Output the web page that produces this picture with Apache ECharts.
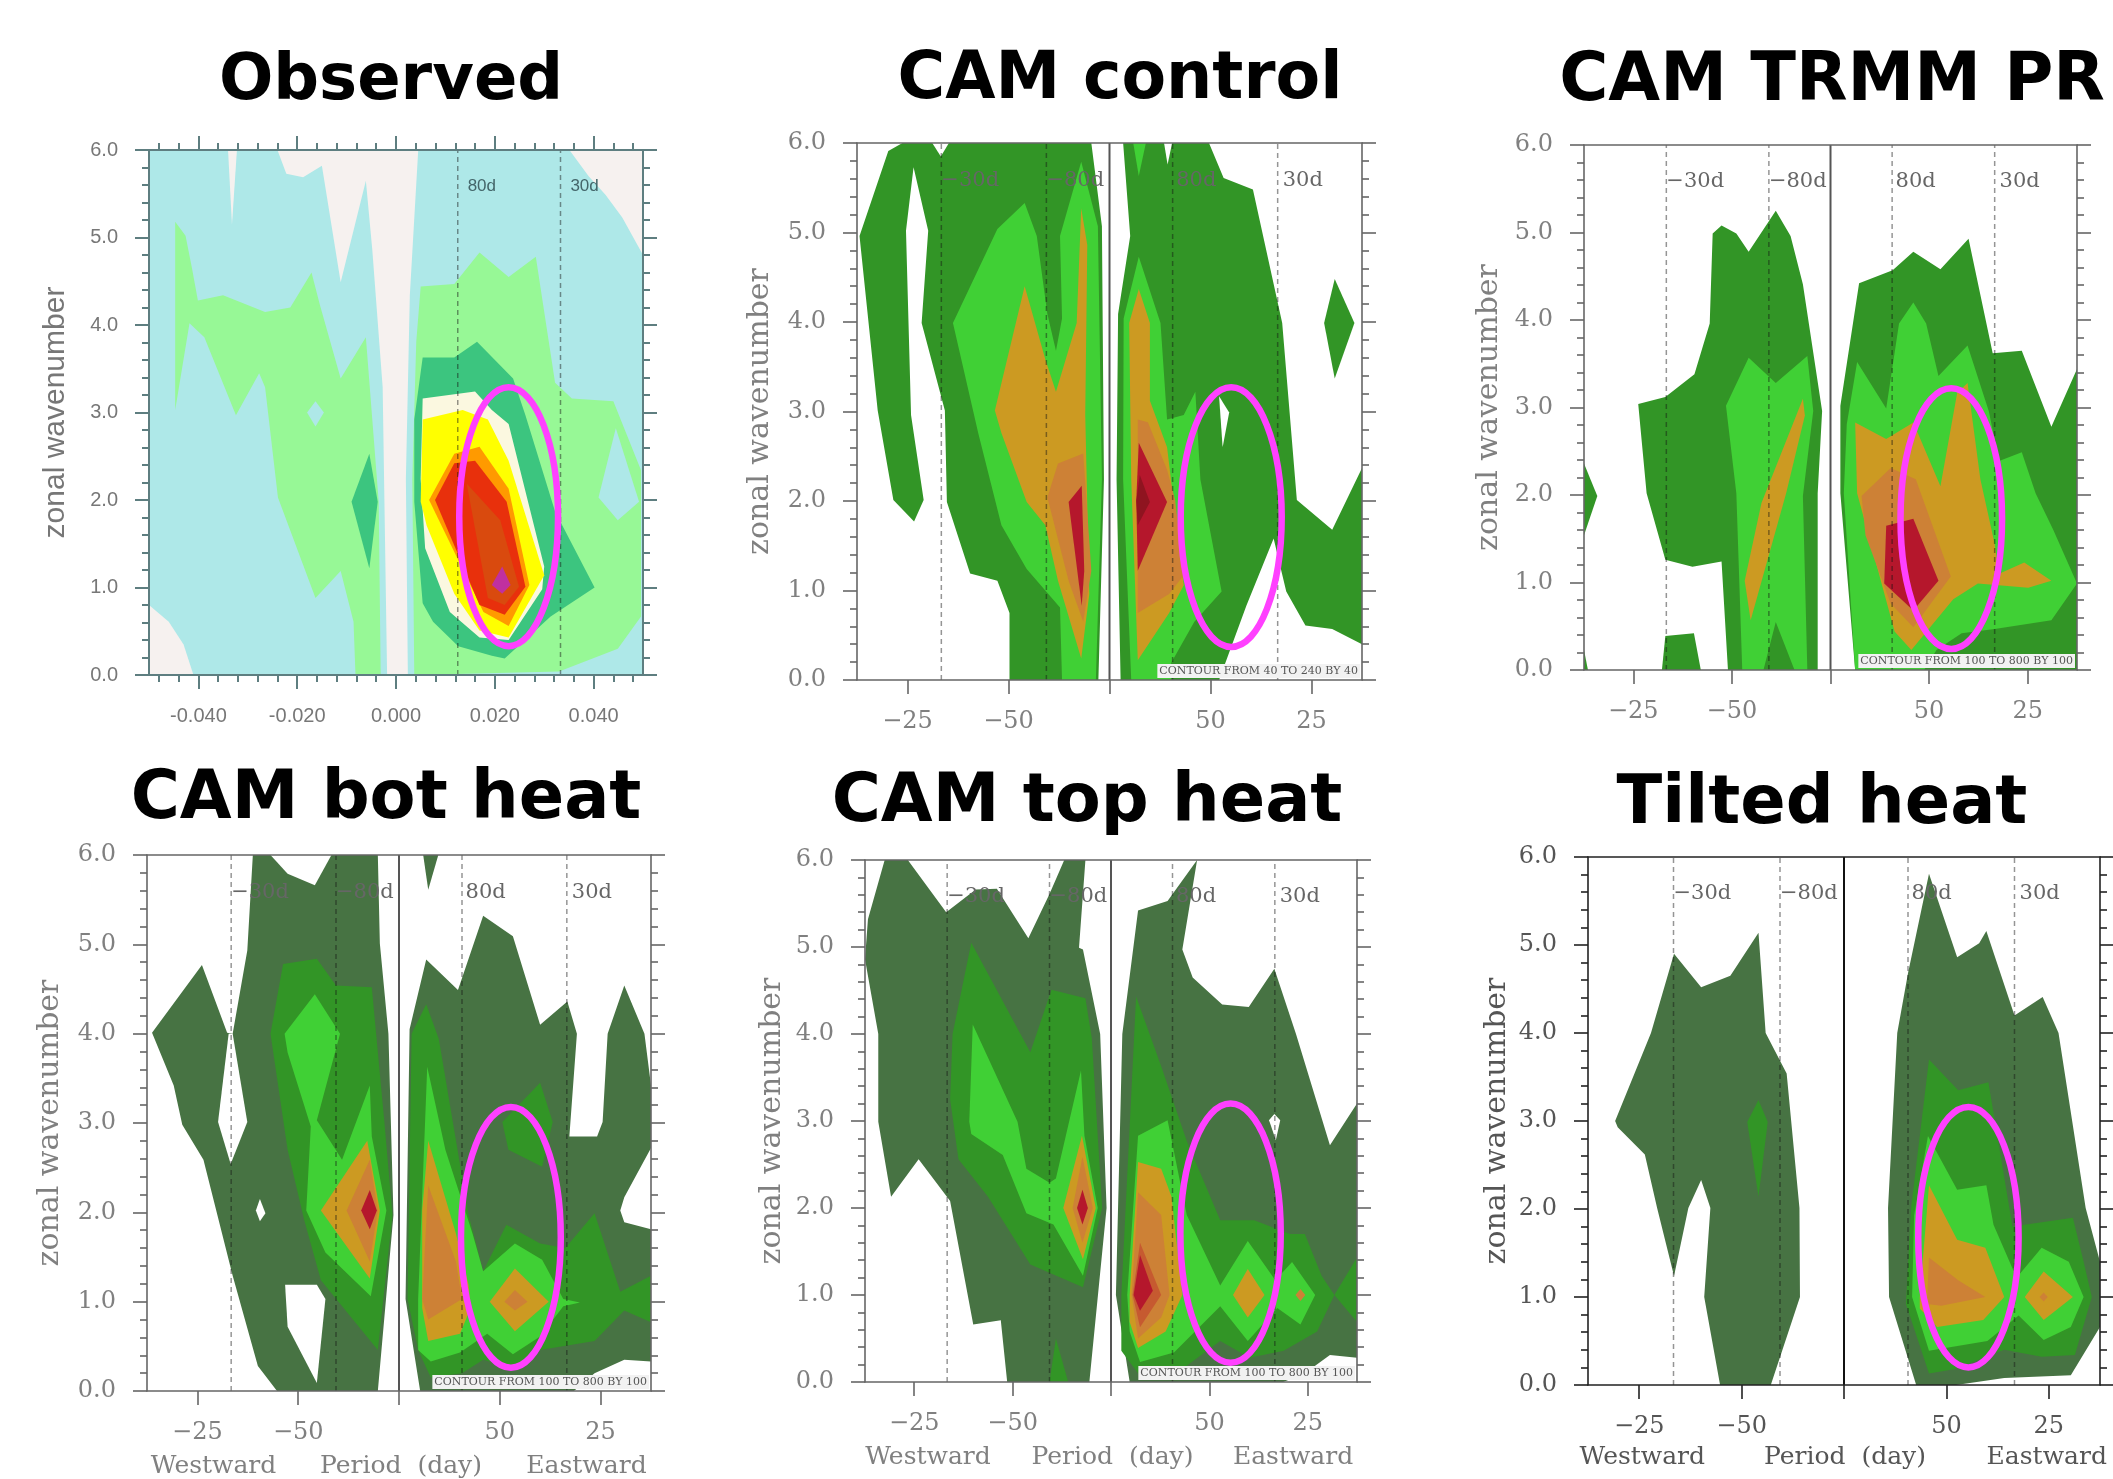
<!DOCTYPE html>
<html><head><meta charset="utf-8">
<style>html,body{margin:0;padding:0;background:#fff}#c{width:2113px;height:1479px}</style>
<script src="https://cdn.jsdelivr.net/npm/echarts@6/dist/echarts.min.js"></script>
</head><body><div id="c"></div>
<script>
// frequency is in units of 0.001 cycles per day, wavenumber is the y value
const fullField=[[-50,0],[-50,6],[50,6],[50,0]];
const periodMarks=[-33.3,-12.5,12.5,33.3];
const xTickValues=[-40,-20,20,40];
const periodTickLabels=['\u221225','\u221250','50','25'];
const obsTickLabels=['-0.040','-0.020','0.000','0.020','0.040'];
const yTickLabels=['0.0','1.0','2.0','3.0','4.0','5.0','6.0'];
const panelTitles=['Observed','CAM control','CAM TRMM PR','CAM bot heat','CAM top heat','Tilted heat'];

// Observed
const obsWhiteCorner=[[-50,.8],[-46,.61],[-43,.35],[-41,0],[-50,0]];
const obsWhiteSpike=[[-34,6],[-33.2,5.15],[-32.2,6]];
const obsWhiteTop=[[-24,6],[-22.2,5.73],[-18.8,5.69],[-15,5.82],[-11.2,4.49],[-6.1,5.65],[-4.8,4.86],[-2.7,3.29],[-1.8,0],[2.4,0],[2,2.24],[2.8,4.34],[4.5,6]];
const obsWhiteRight=[[35.1,6],[39,5.7],[42.4,5.49],[45.8,5.23],[50,4.8],[50,6]];
const obsPaleLeft=[[-44.7,5.18],[-42.6,5.02],[-41.3,4.65],[-40.1,4.28],[-35,4.34],[-26.5,4.15],[-21.4,4.2],[-17.1,4.6],[-15.4,4.23],[-11.2,3.39],[-6.1,3.86],[-3.5,1.98],[-3.1,0],[-8.2,0],[-8.6,.61],[-11.2,1.19],[-16.3,.88],[-23.9,2.03],[-26.5,3.29],[-27.7,3.45],[-32.4,2.97],[-38.8,3.86],[-41.8,4.02],[-44.7,3.03]];
const obsCyanHoleA=[[-18,3],[-16.3,3.13],[-14.6,3],[-16.3,2.84]];
const obsPaleRight=[[5,4.44],[11.8,4.47],[16.9,4.83],[22.8,4.55],[28.3,4.78],[32.2,3.34],[35.6,3.16],[44,3.13],[49.6,2.34],[49.6,.67],[44.9,.3],[33,.04],[3.7,0],[3.3,2.24],[4.1,3.81]];
const obsCyanHoleB=[[44.5,2.82],[41,2.03],[44.9,1.77],[49.2,1.98]];
const obsGreenLeft=[[-9,1.98],[-5.4,2.53],[-3.7,1.98],[-5.4,1.22]];
const obsGreenRight=[[5.4,3.63],[11.8,3.63],[16.4,3.81],[23.7,3.39],[26.2,2.97],[32.2,1.87],[40.2,1],[31.3,.67],[22,.19],[19.4,.22],[12.6,.33],[7.5,.61],[5.4,.82],[3.7,1.98],[3.7,2.92]];
const obsCream=[[5.4,3.16],[16,3.24],[19.4,3.03],[22.8,2.87],[30,1.24],[29.6,.98],[22.8,.4],[16.9,.43],[10.9,.72],[5.9,1.45],[5,2.24]];
const obsYellow=[[5.4,2.92],[13.5,3.03],[18.6,2.92],[22.8,2.45],[30,1.14],[22.8,.43],[16.9,.51],[11.8,.93],[6.2,1.71],[5,1.98]];
const obsOrange=[[11.8,2.53],[16.9,2.61],[22.8,2.13],[27,1.03],[22.8,.56],[17.7,.72],[6.7,2]];
const obsRed=[[7.9,2],[11.8,2.42],[16,2.45],[22.4,1.98],[26.2,1.01],[22,.69],[16.9,.8]];
const obsRedInner=[[14.3,2.19],[21.1,1.77],[24.9,1.01],[22,.8],[18.6,.88]];
const obsPeak=[[21.5,1.24],[23.2,1.03],[21.5,.93],[19.4,1.03]];

// CAM control
const ctlLeftDark=[[-49.5,4.96],[-43.8,5.91],[-41,6],[-3.6,6],[-1.5,5.07],[-1.1,2.24],[-2.2,0],[-19.8,0],[-19.8,.75],[-22.2,1.11],[-27.6,1.19],[-32.2,1.99],[-32.6,3.01],[-37.2,3.99],[-35.9,5.02],[-38.8,5.73],[-40.3,5.02],[-39.3,2.96],[-36.8,2.01],[-38.7,1.77],[-42.8,2.01],[-45.9,3.01]];
const ctlNotchA=[[-35.1,6],[-33.4,5.85],[-31.8,6]];
const ctlRightDark=[[2.7,6],[4.1,4.96],[1.7,4.09],[1.4,2.24],[2.2,0],[21.7,0],[27.1,.83],[32.5,1.58],[35,.99],[38.8,.61],[44.1,.57],[50,.4],[50,2.37],[44.1,1.68],[37.1,2.01],[34.2,3.99],[28.4,5.48],[22.6,5.61],[19.7,6]];
const ctlNotchB=[[10.8,6],[11.5,5.76],[12.4,6]];
const ctlSliver=[[4.7,6],[5.8,5.63],[7.2,6]];
const ctlSpike=[[21.7,3.17],[23.7,2.99],[22.4,2.6]];
const ctlDiamond=[[42.5,3.99],[44.6,4.48],[48.5,3.99],[44.6,3.37]];
const ctlBrightLeft=[[-31,3.99],[-22.2,5.04],[-16.8,5.33],[-14.4,4.96],[-12.3,4.09],[-10.6,3.68],[-9.4,4.04],[-9.8,4.96],[-5.6,5.79],[-2.3,5.07],[-1.5,2.24],[-2.7,0],[-9.4,0],[-9.8,.81],[-16.4,1.24],[-21.4,1.73],[-26,2.76]];
const ctlGoldLeft=[[-22.7,3.01],[-16.8,4.4],[-12.7,3.58],[-10.6,3.22],[-6.5,3.99],[-5.6,5.27],[-4.4,4.86],[-4.8,2.96],[-4,.96],[-5.6,.24],[-10.2,1.11],[-12.7,1.73],[-16.4,1.99],[-21.4,2.76]];
const ctlCopperLeft=[[-12.3,2.04],[-10.2,2.42],[-5.2,2.53],[-3.6,1.22],[-5.2,.65],[-8.1,1.11]];
const ctlCrimsonLeft=[[-8.1,1.99],[-5.5,2.17],[-5,1.22],[-5.5,.83]];
const ctlBrightRight=[[2.8,4.04],[5.8,4.73],[10.1,3.99],[11.4,2.91],[14.7,2.96],[17,3.22],[18,2.24],[22.2,.99],[16.8,.65],[12.2,.19],[12.2,0],[4.3,0],[2.7,2.24]];
const ctlGoldRight=[[3.9,3.99],[5.8,4.37],[8,3.99],[8,3.12],[11.4,2.6],[14.7,1.06],[11.8,.75],[5.6,.22],[4.3,2.24]];
const ctlCopperRight=[[5.6,2.91],[7.6,2.88],[11.4,2.35],[13,2.01],[14.7,1.17],[11.8,.96],[5.6,.75]];
const ctlCrimsonRight=[[5.3,2.01],[5.8,2.65],[11.4,1.99],[5.6,1.22]];
const ctlMaroon=[[5.3,2],[6,2.29],[8,1.99],[5.6,1.73]];

// CAM TRMM PR
const prTip=[[-50,2.36],[-47.3,1.99],[-50,1.54]];
const prCorner=[[-50,.23],[-49.2,0],[-50,0]];
const prLeftDark=[[-39,3.04],[-33.5,3.12],[-27.6,3.38],[-24.5,3.96],[-23.9,4.99],[-22.1,5.08],[-19.1,4.99],[-16.6,4.78],[-11.1,5.25],[-8.1,4.96],[-5.6,4.41],[-1.7,2.96],[-2.6,2.02],[-2.6,0],[-20.8,0],[-22.1,1.24],[-28,1.18],[-33.5,1.26],[-37.3,2.02]];
const prSmall=[[-33.5,.39],[-27.7,.42],[-26.3,0],[-34.2,0]];
const prBrightLeft=[[-21.2,3.02],[-16.6,3.57],[-11.1,3.28],[-4.7,3.59],[-3.5,2.96],[-5.6,1.99],[-4.7,0],[-7.3,0],[-11.1,.55],[-13.6,0],[-17.9,0],[-19.1,2.02]];
const prGoldLeft=[[-17.4,1.02],[-14,1.91],[-5.6,3.1],[-5.2,2.91],[-9,2.02],[-16.2,.57]];
const prRightDark=[[2,3.02],[5.8,4.42],[12.6,4.57],[16.8,4.78],[22.3,4.58],[28,4.93],[32.9,3.62],[38.8,3.65],[44.8,2.78],[50,3.44],[50,0],[5,0],[2,2.02]];
const prBrightRight=[[3.3,2.81],[5.4,3.52],[11.3,2.99],[13.9,3.96],[16.8,4.2],[19.4,3.96],[21.9,3.36],[27.8,3.71],[32.1,2.96],[34.2,2.39],[38.8,2.49],[41.6,2.02],[45.2,1.6],[50,.99],[44.8,.57],[33.3,.47],[26.6,.42],[21.5,.23],[19,0],[5,0],[2.7,2.02]];
const prGoldRight=[[5,2.83],[11.3,2.64],[16.8,2.83],[22.3,2.1],[25.7,3.17],[27.8,3.28],[30.4,2.18],[33.3,1.44],[34.2,1.1],[39.3,1.23],[44.8,1.02],[40.1,.94],[29.9,.99],[24.9,.81],[16.4,.23],[13,.44],[5.4,2.02]];
const prCopper=[[6.3,1.99],[12.2,2.31],[17.3,2.18],[24.4,1.07],[16.8,.49],[12.2,.76],[7.1,1.54]];
const prCrimson=[[11.3,1.65],[16.8,1.73],[21.9,1.02],[16.8,.68],[10.9,.99]];

// CAM bot heat
const botLeftDark=[[-49,4.01],[-39.1,4.77],[-34.1,4.01],[-33,4],[-30.1,4.93],[-29,6],[-4.2,6],[-3.8,5.01],[-2.1,4],[-1.1,1.97],[-4.2,0],[-24.2,0],[-28,.28],[-33,1.29],[-38.8,2.59],[-43,2.98],[-44.7,3.42]];
const botHoleA=[[-35.9,3.01],[-33.8,4],[-33,4],[-30.1,3.01],[-33.4,2.54]];
const botNotch=[[-25.5,6],[-22.1,5.79],[-16.7,5.66],[-13.4,6]];
const botBlob=[[-28.4,2.02],[-27.6,2.15],[-26.5,1.99],[-27.6,1.9]];
const botHoleB=[[-22.6,1.19],[-16.3,1.19],[-14.6,1.03],[-16.3,.09],[-22.1,.72]];
const botGreenLeft=[[-25.5,4],[-23,4.78],[-16.3,4.84],[-12.5,4.54],[-5.4,4.52],[-2.9,3.01],[-1.3,1.97],[-4.2,.46],[-15.5,1.24],[-18.8,1.91],[-22.1,2.7]];
const botBrightLeft=[[-22.7,4],[-16.7,4.44],[-11.7,4],[-16.3,3.03],[-11.3,2.59],[-5.8,3.42],[-5.4,2.85],[-2.5,2.02],[-5.6,1.06],[-14.6,1.55],[-18.4,2.02],[-17.5,2.96],[-22.1,3.79]];
const botGoldLeft=[[-15.5,2.02],[-6.3,2.8],[-3.8,2.02],[-5.8,1.26]];
const botCopperLeft=[[-10.4,2.02],[-5.8,2.59],[-4.2,2.02],[-5.8,1.45]];
const botCrimson=[[-7.5,2.02],[-5.8,2.25],[-4.4,2.02],[-5.8,1.81]];
const botRightDark=[[1.3,1.03],[2.1,4.05],[5.4,4.83],[11.7,4.49],[16.7,5.32],[22.6,5.09],[28,4.1],[33.4,4.36],[35.3,4],[33.8,2.85],[39.3,2.85],[40.4,3.01],[41.4,4],[44.7,4.54],[48.7,4],[50,3.42],[50,2.72],[44.7,2.17],[43.9,2.02],[44.7,1.89],[50,1.81],[50,.33],[44.7,.35],[38.8,.2],[34.7,0],[4.2,0]];
const botSpike=[[4.8,6],[5.8,5.61],[7.8,6]];
const botGreenRight=[[2.5,4],[5.4,4.33],[7.9,3.94],[13.8,1.97],[16.7,1.34],[21.3,1.86],[28,1.65],[33,1.6],[38.8,1.99],[43.9,1.11],[50,1.29],[50,.77],[44.7,.9],[38.8,.56],[28,.46],[23,.25],[16.7,.35],[12.5,.2],[6.3,.15],[3.8,.46],[1.7,1.03]];
const botGreenUpper=[[20.5,3.01],[28,3.45],[30.5,3.01],[28.4,2.51],[21.7,2.7]];
const botBrightRight=[[3.8,1.03],[5.6,3.63],[9.2,2.7],[14.6,1.76],[16.7,1.34],[23,1.65],[28.4,1.47],[32.6,1.03],[35.9,.99],[32.6,.95],[28,.61],[22.6,.41],[17.5,.64],[12.1,.43],[6.3,.33],[3.8,.46]];
const botGoldRight=[[4.6,2.02],[5.8,2.8],[11.3,1.76],[13.8,1.19],[14.2,.93],[12.1,.64],[5.8,.56],[4.6,.93]];
const botCopperRight=[[4.6,1.03],[5.8,2.3],[11.3,1.45],[12.5,1.03],[5.8,.8]];
const botGoldPeak=[[18,1],[23,1.37],[29.7,1],[23,.67]];
const botCopperPeak=[[20.9,1],[23,1.13],[25.5,1],[23,.9]];

// CAM top heat
const topLeftDark=[[-50,4.86],[-49.4,5.32],[-46,6],[-41.3,6],[-33.5,5.4],[-27.5,5.66],[-23.2,5.67],[-16.8,5.1],[-12.5,5.61],[-9.5,6],[-5.2,6],[-6.5,4.99],[-5.7,4.97],[-2.2,4],[-.9,2],[-4.4,0],[-21.1,0],[-22.4,.71],[-28,.66],[-32.7,2.08],[-39.1,2.56],[-44.7,2.13],[-47.3,2.99],[-47.3,4]];
const topGreenLeft=[[-32.2,4],[-28.4,5.05],[-16.4,3.79],[-12.1,4.51],[-5.2,4.41],[-3.9,3.95],[-1.8,2],[-5.7,1.09],[-16.4,1.35],[-25,2.13],[-31,2.56],[-32.7,3.25]];
const topGreenSmall=[[-12.5,0],[-11.2,.5],[-8.7,0]];
const topBrightLeft=[[-28.8,2.99],[-28.1,4.11],[-19,2.99],[-17.2,2.45],[-12.5,2.29],[-11.2,2.34],[-6.1,3.58],[-5.4,2.83],[-2.7,2],[-5.7,1.22],[-11.7,1.81],[-17.2,1.94],[-22,2.61],[-28.4,2.85]];
const topGoldLeft=[[-9.7,2],[-5.9,2.83],[-3.1,2],[-5.7,1.41]];
const topCopperLeft=[[-7.8,2],[-5.8,2.59],[-3.7,2],[-5.8,1.6]];
const topCrimsonLeft=[[-6.9,2],[-5.8,2.21],[-4.7,2],[-5.8,1.81]];
const topRightDark=[[1,1],[2.3,4],[5.5,5.42],[11.5,5.53],[17.5,6],[14.5,4.97],[16.6,4.65],[22.6,4.34],[28,4.31],[33.2,4.75],[37.6,4],[44.5,2.72],[50,3.2],[50,.28],[44.5,.31],[39.4,.1],[35,0],[3.8,0]];
const topHole=[[32.1,3.01],[33.2,3.08],[34.4,3.01],[33.5,2.78],[32.3,2.98]];
const topGreenRight=[[2.1,1],[5.1,4.43],[10.2,3.63],[15.4,2.77],[22.2,1.86],[29.1,1.86],[36.4,1.7],[39.4,1.7],[42.8,1.22],[45.4,1],[41.9,.58],[35.1,.36],[28.2,.28],[22.2,.47],[14.5,.15],[5.9,.07],[2.1,.36]];
const topGreenWedge=[[45.4,1],[50,1.43],[50,.69]];
const topBrightRight=[[3.3,1],[5.5,2.83],[11.5,3.01],[15.4,1.92],[22.2,1.11],[27.8,1.62],[33.4,1.17],[36.8,1.38],[41.5,1],[38.5,.66],[33.8,.85],[27.8,.47],[22.2,.87],[12.8,.34],[5.9,.23],[3.8,.58]];
const topGoldRight=[[3.8,1],[5.5,2.53],[10.2,2.45],[12.3,2.13],[14.5,1],[11.1,.58],[5.5,.39],[3.8,.69]];
const topGoldPeakA=[[24.8,1],[27.8,1.3],[31.2,1],[27.8,.74]];
const topGoldPeakB=[[37.5,1],[38.5,1.07],[39.5,1],[38.5,.93]];
const topCopperRight=[[4.2,1],[5.5,2.18],[10.2,1.92],[11.9,1],[10.2,.74],[5.5,.5]];
const topRust=[[4.4,1],[5.9,1.6],[10.2,1],[5.9,.63]];
const topCrimsonRight=[[4.6,1],[5.9,1.46],[8.5,1.05],[5.9,.82]];

// Tilted heat
const tiltLeftDark=[[-44.7,3],[-37.7,4],[-33.2,4.9],[-27.9,4.52],[-22.2,4.65],[-16.7,5.14],[-15.3,4],[-11.2,3.54],[-8.7,2.01],[-8.6,1],[-14.3,0],[-24.2,0],[-27.3,1],[-26.1,2.01],[-27.9,2.33],[-30.4,2.01],[-33.2,1.24],[-36.5,2.01],[-38.9,2.62],[-44.2,2.93]];
const tiltGreenLeft=[[-18.9,2.99],[-16.7,3.24],[-14.9,2.99],[-16.7,2.14]];
const tiltRightDark=[[8.8,1],[8.6,2.01],[10.4,4],[12.5,4.68],[16.6,5.81],[22.1,4.86],[26.4,5.02],[27.8,5.16],[33.3,4.2],[38.8,4.41],[41.9,4],[47.2,2.01],[50,1.4],[50,.66],[44.3,.11],[31.3,.08],[21.9,0],[14.1,0]];
const tiltGreenRight=[[13.1,2.01],[16.6,3.7],[22.3,3.35],[28.2,3.44],[32.9,1.8],[44.7,1.9],[46.8,1.4],[48.4,1],[45.1,.34],[38.6,.32],[31.3,.4],[21.5,.18],[16.6,.13],[12.1,.92]];
const tiltBright=[[13.7,1.93],[16.4,2.83],[22.1,2.22],[27.8,2.27],[29.2,1.82],[33.7,1.22],[38.6,1.56],[43.9,1.4],[46.8,1],[44.3,.66],[39,.51],[34.1,.79],[28,.5],[16.6,.39],[13.3,1]];
const tiltGold=[[14.8,1],[16.6,2.27],[22.1,1.65],[27.6,1.56],[31.3,1],[27.2,.74],[18.2,.66],[14.8,.87]];
const tiltCopper=[[16.2,.92],[16.6,1.45],[22.3,1.19],[27.6,1],[19,.9]];
const tiltGoldPeak=[[35.3,1],[39,1.29],[44.7,1],[39,.74]];
const tiltCopperPeak=[[38.2,1],[39,1.05],[39.8,1],[39,.95]];

const white='#ffffff', grayWhite='#f6f1ef', cyan='#aee8e8', pale='#97f896', mint='#3cc57f', cream='#fbf8e0', yellow='#ffff00', orange='#ff9a00', red='#e8300c', redIn='#d94a0e', magenta='#c030a0';
const dk='#477343', fg='#329526', bri='#40d035', gold='#cc9a22', cop='#cd8136', cri='#b5172c', mar='#8f1420', rust='#c65a30';

const panels=[
 {title:0,titleSize:64,box:[149,150,494,525],obs:true,nameGap:78,titleAt:[386,45],ellipse:[22.8,1.81,10,1.48],
  layers:[[fullField,grayWhite],[fullField,cyan],[obsWhiteCorner,grayWhite],[obsWhiteSpike,grayWhite],[obsWhiteTop,grayWhite],[obsWhiteRight,grayWhite],[obsPaleLeft,pale],[obsCyanHoleA,cyan],[obsPaleRight,pale],[obsCyanHoleB,cyan],[obsGreenLeft,mint],[obsGreenRight,mint],[obsCream,cream],[obsYellow,yellow],[obsOrange,orange],[obsRed,red],[obsRedInner,redIn],[obsPeak,magenta]]},
 {title:1,titleSize:65,box:[857,143,505,537],nameGap:82,titleAt:[1115,44],ellipse:[24.1,1.82,10,1.45],info:'CONTOUR FROM 40 TO 240 BY 40',
  layers:[[ctlLeftDark,fg],[ctlNotchA,white],[ctlRightDark,fg],[ctlNotchB,white],[ctlSpike,white],[ctlDiamond,fg],[ctlSliver,bri],[ctlBrightLeft,bri],[ctlGoldLeft,gold],[ctlCopperLeft,cop],[ctlCrimsonLeft,cri],[ctlBrightRight,bri],[ctlGoldRight,gold],[ctlCopperRight,cop],[ctlCrimsonRight,cri],[ctlMaroon,mar]]},
 {title:2,titleSize:67,box:[1584,145,493,525],nameGap:80,titleAt:[1827,44],ellipse:[24.5,1.73,10.3,1.49],info:'CONTOUR FROM 100 TO 800 BY 100',
  layers:[[prTip,fg],[prCorner,fg],[prLeftDark,fg],[prSmall,fg],[prBrightLeft,bri],[prGoldLeft,gold],[prRightDark,fg],[prBrightRight,bri],[prGoldRight,gold],[prCopper,cop],[prCrimson,cri]]},
 {title:3,titleSize:67,box:[147,855,504,536],nameGap:82,titleAt:[381,762],ellipse:[22.2,1.72,9.9,1.46],info:'CONTOUR FROM 100 TO 800 BY 100',foot:[-36.8,.4,37.2],footGap:75,
  layers:[[botLeftDark,dk],[botHoleA,white],[botNotch,white],[botBlob,white],[botHoleB,white],[botGreenLeft,fg],[botBrightLeft,bri],[botGoldLeft,gold],[botCopperLeft,cop],[botCrimson,cri],[botRightDark,dk],[botSpike,dk],[botGreenRight,fg],[botGreenUpper,fg],[botBrightRight,bri],[botGoldRight,gold],[botCopperRight,cop],[botGoldPeak,gold],[botCopperPeak,cop]]},
 {title:4,titleSize:67,box:[865,860,492,522],nameGap:78,titleAt:[1082,765],ellipse:[24.3,1.71,10.2,1.49],info:'CONTOUR FROM 100 TO 800 BY 100',foot:[-37.2,.3,37],footGap:75,
  layers:[[topLeftDark,dk],[topGreenLeft,fg],[topGreenSmall,fg],[topBrightLeft,bri],[topGoldLeft,gold],[topCopperLeft,cop],[topCrimsonLeft,cri],[topRightDark,dk],[topHole,white],[topGreenRight,fg],[topGreenWedge,fg],[topBrightRight,bri],[topGoldRight,gold],[topGoldPeakA,gold],[topGoldPeakB,cop],[topCopperRight,cop],[topRust,rust],[topCrimsonRight,cri]]},
 {title:5,titleSize:67,box:[1588,857,512,528],nameGap:76,titleAt:[1817,767],ellipse:[24.3,1.68,9.8,1.48],foot:[-39.4,.2,39.6],footGap:72,black:true,
  layers:[[tiltLeftDark,dk],[tiltGreenLeft,fg],[tiltRightDark,dk],[tiltGreenRight,fg],[tiltBright,bri],[tiltGold,gold],[tiltCopper,cop],[tiltGoldPeak,gold],[tiltCopperPeak,cop]]}
];

const option={backgroundColor:'#fff',animation:false,title:[],grid:[],xAxis:[],yAxis:[],series:[]};
panels.forEach((p,gi)=>{
  const frame=p.obs?'#5e7e80':(p.black?'#222':'#666');
  const txt=p.obs?'#777':(p.black?'#555':'#808080');
  const fam=p.obs?'Liberation Sans':'DejaVu Serif';
  const tickFont=p.obs?20:24;
  option.title.push({text:panelTitles[p.title],left:p.titleAt[0],top:p.titleAt[1],textAlign:'center',textStyle:{fontFamily:'DejaVu Sans',fontWeight:'bold',fontSize:p.titleSize,color:'#000'}});
  option.grid.push({left:p.box[0],top:p.box[1],width:p.box[2],height:p.box[3],containLabel:false});
  const xi=option.xAxis.length, yi=option.yAxis.length;
  const ls={color:frame,width:p.obs?2:1.6};
  const majors=[-40,-20,0,20,40];
  const labelVals=p.obs?majors:xTickValues;
  const base={type:'value',gridIndex:gi,min:-50,max:50,interval:10,z:300,splitLine:{show:false},minorTick:{show:false}};
  option.xAxis.push({...base,position:'bottom',axisLine:{show:true,onZero:false,lineStyle:ls},axisTick:{show:true,length:14,lineStyle:ls,customValues:majors},
    axisLabel:{show:true,customValues:labelVals,margin:p.obs?31:30,fontFamily:fam,fontSize:tickFont,color:txt,
      formatter:v=>p.obs?obsTickLabels[(v+40)/20]:periodTickLabels[xTickValues.indexOf(v)]}});
  option.xAxis.push({...base,position:'top',axisLine:{show:true,onZero:false,lineStyle:ls},axisLabel:{show:false},axisTick:{show:!!p.obs,length:14,lineStyle:ls,customValues:majors}});
  if(p.obs){
    const minors=[-48,-44,-36,-32,-28,-24,-16,-12,-8,-4,4,8,12,16,24,28,32,36,44,48];
    ['bottom','top'].forEach(pos=>option.xAxis.push({...base,position:pos,axisLine:{show:false,onZero:false},axisLabel:{show:false},axisTick:{show:true,length:7,lineStyle:ls,customValues:minors}}));
  }
  const yBase={type:'value',gridIndex:gi,min:0,max:6,interval:1,z:300,splitLine:{show:false},
    axisLine:{show:true,onZero:false,lineStyle:ls},axisTick:{show:true,length:14,lineStyle:ls},minorTick:{show:true,splitNumber:5,length:7,lineStyle:ls},minorSplitLine:{show:false}};
  option.yAxis.push({...yBase,position:'left',name:'zonal wavenumber',nameLocation:'middle',nameGap:p.nameGap,nameRotate:90,
    nameTextStyle:{fontFamily:fam,fontSize:30,color:txt},
    axisLabel:{show:true,margin:31,fontFamily:fam,fontSize:tickFont,color:txt,formatter:v=>yTickLabels[v]}});
  option.yAxis.push({...yBase,position:'right',axisLabel:{show:false}});
  const bind={xAxisIndex:xi,yAxisIndex:yi,silent:true};

  p.layers.forEach((layer,li)=>{
    const poly=layer[0], fill=layer[1];
    option.series.push({...bind,type:'custom',z:2,coordinateSystem:'cartesian2d',clip:true,data:poly,encode:{x:0,y:1},
      renderItem:(params,api)=>params.dataIndex===0?{type:'polygon',shape:{points:poly.map(v=>api.coord(v))},style:{fill:fill},z2:li}:null});
  });
  const marks=p.obs?periodMarks.slice(2):periodMarks;
  marks.forEach(f=>option.series.push({...bind,type:'line',z:10,data:[[f,0],[f,6]],showSymbol:false,symbol:'none',
    lineStyle:{color:'rgba(20,20,20,0.45)',width:1.5,type:[5,4]}}));
  if(!p.obs) option.series.push({...bind,type:'line',z:11,data:[[0,0],[0,6]],showSymbol:false,symbol:'none',lineStyle:{color:p.black?'#111':'#555',width:2}});

  const names=p.obs?[['80d',14.5],['30d',35.3]]:[['\u221230d',-33.3],['\u221280d',-12.5],['80d',13.2],['30d',34.3]];
  names.forEach(n=>option.series.push({...bind,type:'custom',z:12,clip:false,data:[[n[1],5.58]],encode:{x:0,y:1},
    renderItem:(params,api)=>{const c=api.coord([api.value(0),api.value(1)]);
      return {type:'text',style:{x:c[0],y:c[1],text:n[0],align:'left',verticalAlign:'middle',fill:p.obs?'#44666a':'#666',font:(p.obs?'17px "Liberation Sans"':'21px "DejaVu Serif"')}};}}));

  if(p.info) option.series.push({...bind,type:'custom',z:13,clip:false,data:[[50,0]],encode:{x:0,y:1},
    renderItem:(params,api)=>{const c=api.coord([api.value(0),api.value(1)]);
      return {type:'text',style:{x:c[0]-2,y:c[1]-2,text:p.info,align:'right',verticalAlign:'bottom',fill:'#555',font:'11px "DejaVu Serif"',backgroundColor:'#f2f2f2',padding:[2,2,1,2]}};}});

  const e=p.ellipse;
  option.series.push({...bind,type:'custom',z:20,clip:false,data:[e],encode:{x:0,y:1},
    renderItem:(params,api)=>{const c=api.coord([api.value(0),api.value(1)]);
      const q=api.coord([api.value(0)+api.value(2),api.value(1)+api.value(3)]);
      return {type:'ellipse',shape:{cx:c[0],cy:c[1],rx:q[0]-c[0],ry:c[1]-q[1]},style:{fill:'none',stroke:'#ff40ff',lineWidth:6.5}};}});

  if(p.foot) ['Westward','Period  (day)','Eastward'].forEach((t,i)=>option.series.push({...bind,type:'custom',z:14,clip:false,data:[[p.foot[i],0]],encode:{x:0,y:1},
    renderItem:(params,api)=>{const c=api.coord([api.value(0),api.value(1)]);
      return {type:'text',style:{x:c[0],y:c[1]+p.footGap,text:t,align:'center',verticalAlign:'middle',fill:txt,font:'25px "DejaVu Serif"'}};}}));
});
const chart=echarts.init(document.getElementById('c'),null,{renderer:'canvas'});
chart.setOption(option);
</script></body></html>
